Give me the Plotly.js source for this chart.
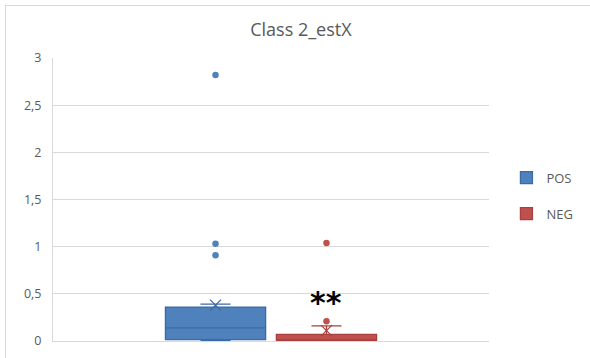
<!DOCTYPE html>
<html>
<head>
<meta charset="utf-8">
<script src="https://cdn.plot.ly/plotly-3.0.1.min.js"></script>
<style>
html,body{margin:0;padding:0;background:#fff;overflow:hidden;}
#chart{position:absolute;left:0;top:0;width:590px;height:358px;}
#frame{position:absolute;left:5px;top:5px;width:700px;height:500px;border:1px solid #d9d9d9;pointer-events:none;}
</style>
</head>
<body>
<div id="chart"></div>
<div id="frame"></div>
<script>
// Data
const seriesNames = ['POS', 'NEG'];
const q1 = [0.015, 0.0];
const median = [0.14, 0.0];
const q3 = [0.36, 0.07];
const lowerFence = [0.0, 0.0];
const upperFence = [0.39, 0.16];
const meanVals = [0.38, 0.11];
const outliersPOS = [2.82, 1.03, 0.91];
const outliersNEG = [1.04, 0.21];
const outliers = [outliersPOS, outliersNEG];
const fillColors = ['#4f81bd', '#c0504d'];
const lineColors = ['#3c6aa3', '#a8403d'];
const yTickVals = [0, 0.5, 1, 1.5, 2, 2.5, 3];
const chartTitle = 'Class 2_estX';
const significance = '**';

const traces = [];
seriesNames.forEach((name, i) => {
  traces.push({
    type: 'box',
    name: name,
    x: [name],
    q1: [q1[i]], median: [median[i]], q3: [q3[i]],
    lowerfence: [lowerFence[i]], upperfence: [upperFence[i]],
    fillcolor: fillColors[i],
    line: {color: lineColors[i], width: 1.3},
    whiskerwidth: 0.3,
    legendgroup: name,
    hoverinfo: 'skip'
  });
});
seriesNames.forEach((name, i) => {
  traces.push({
    type: 'scatter', mode: 'markers',
    x: outliers[i].map(() => name), y: outliers[i],
    marker: {color: fillColors[i], size: 6.5},
    showlegend: false, hoverinfo: 'skip'
  });
  traces.push({
    type: 'scatter', mode: 'markers',
    x: [name], y: [meanVals[i]],
    marker: {symbol: 'x-thin', size: 11, line: {color: lineColors[i], width: 1.3}},
    showlegend: false, hoverinfo: 'skip'
  });
});

const layout = {
  width: 590, height: 358,
  margin: {l: 53, r: 93, t: 58, b: 17},
  paper_bgcolor: '#fff', plot_bgcolor: '#fff',
  separators: ',.',
  font: {family: 'Open Sans, sans-serif', color: '#595959'},
  title: {text: chartTitle, x: 0.51, xref: 'container', xanchor: 'center', y: 0.918, yanchor: 'middle',
          font: {size: 18, color: '#595959', family: 'Open Sans, sans-serif'}},
  boxmode: 'overlay',
  boxgap: 0.097,
  boxgroupgap: 0,
  showlegend: true,
  legend: {x: 1.04, xanchor: 'left', y: 0.63, yanchor: 'top',
           font: {size: 13, color: '#595959'}, tracegroupgap: 16,
           traceorder: 'grouped', bgcolor: 'rgba(0,0,0,0)'},
  xaxis: {type: 'category', categoryorder: 'array', categoryarray: seriesNames,
          range: [-1.465, 2.465], showticklabels: false, ticks: '',
          showgrid: false, zeroline: false, showline: true, linecolor: '#d9d9d9', linewidth: 1,
          fixedrange: true},
  yaxis: {range: [0, 3], tickvals: yTickVals, tickformat: '.1~f',
          showgrid: true, gridcolor: '#d9d9d9', gridwidth: 1,
          zeroline: false, showline: true, linecolor: '#d9d9d9', linewidth: 1,
          ticks: '', ticklabelstandoff: 8,
          tickfont: {size: 12.5, color: '#595959'}, fixedrange: true},
  annotations: [{
    x: 'NEG', y: upperFence[1], xref: 'x', yref: 'y',
    text: '<b>' + significance + '</b>', showarrow: false, yanchor: 'bottom', yshift: 4,
    font: {size: 30, color: '#000', family: 'DejaVu Sans, sans-serif'}
  }]
};

Plotly.newPlot('chart', traces, layout, {displayModeBar: false, staticPlot: true});
</script>
</body>
</html>
